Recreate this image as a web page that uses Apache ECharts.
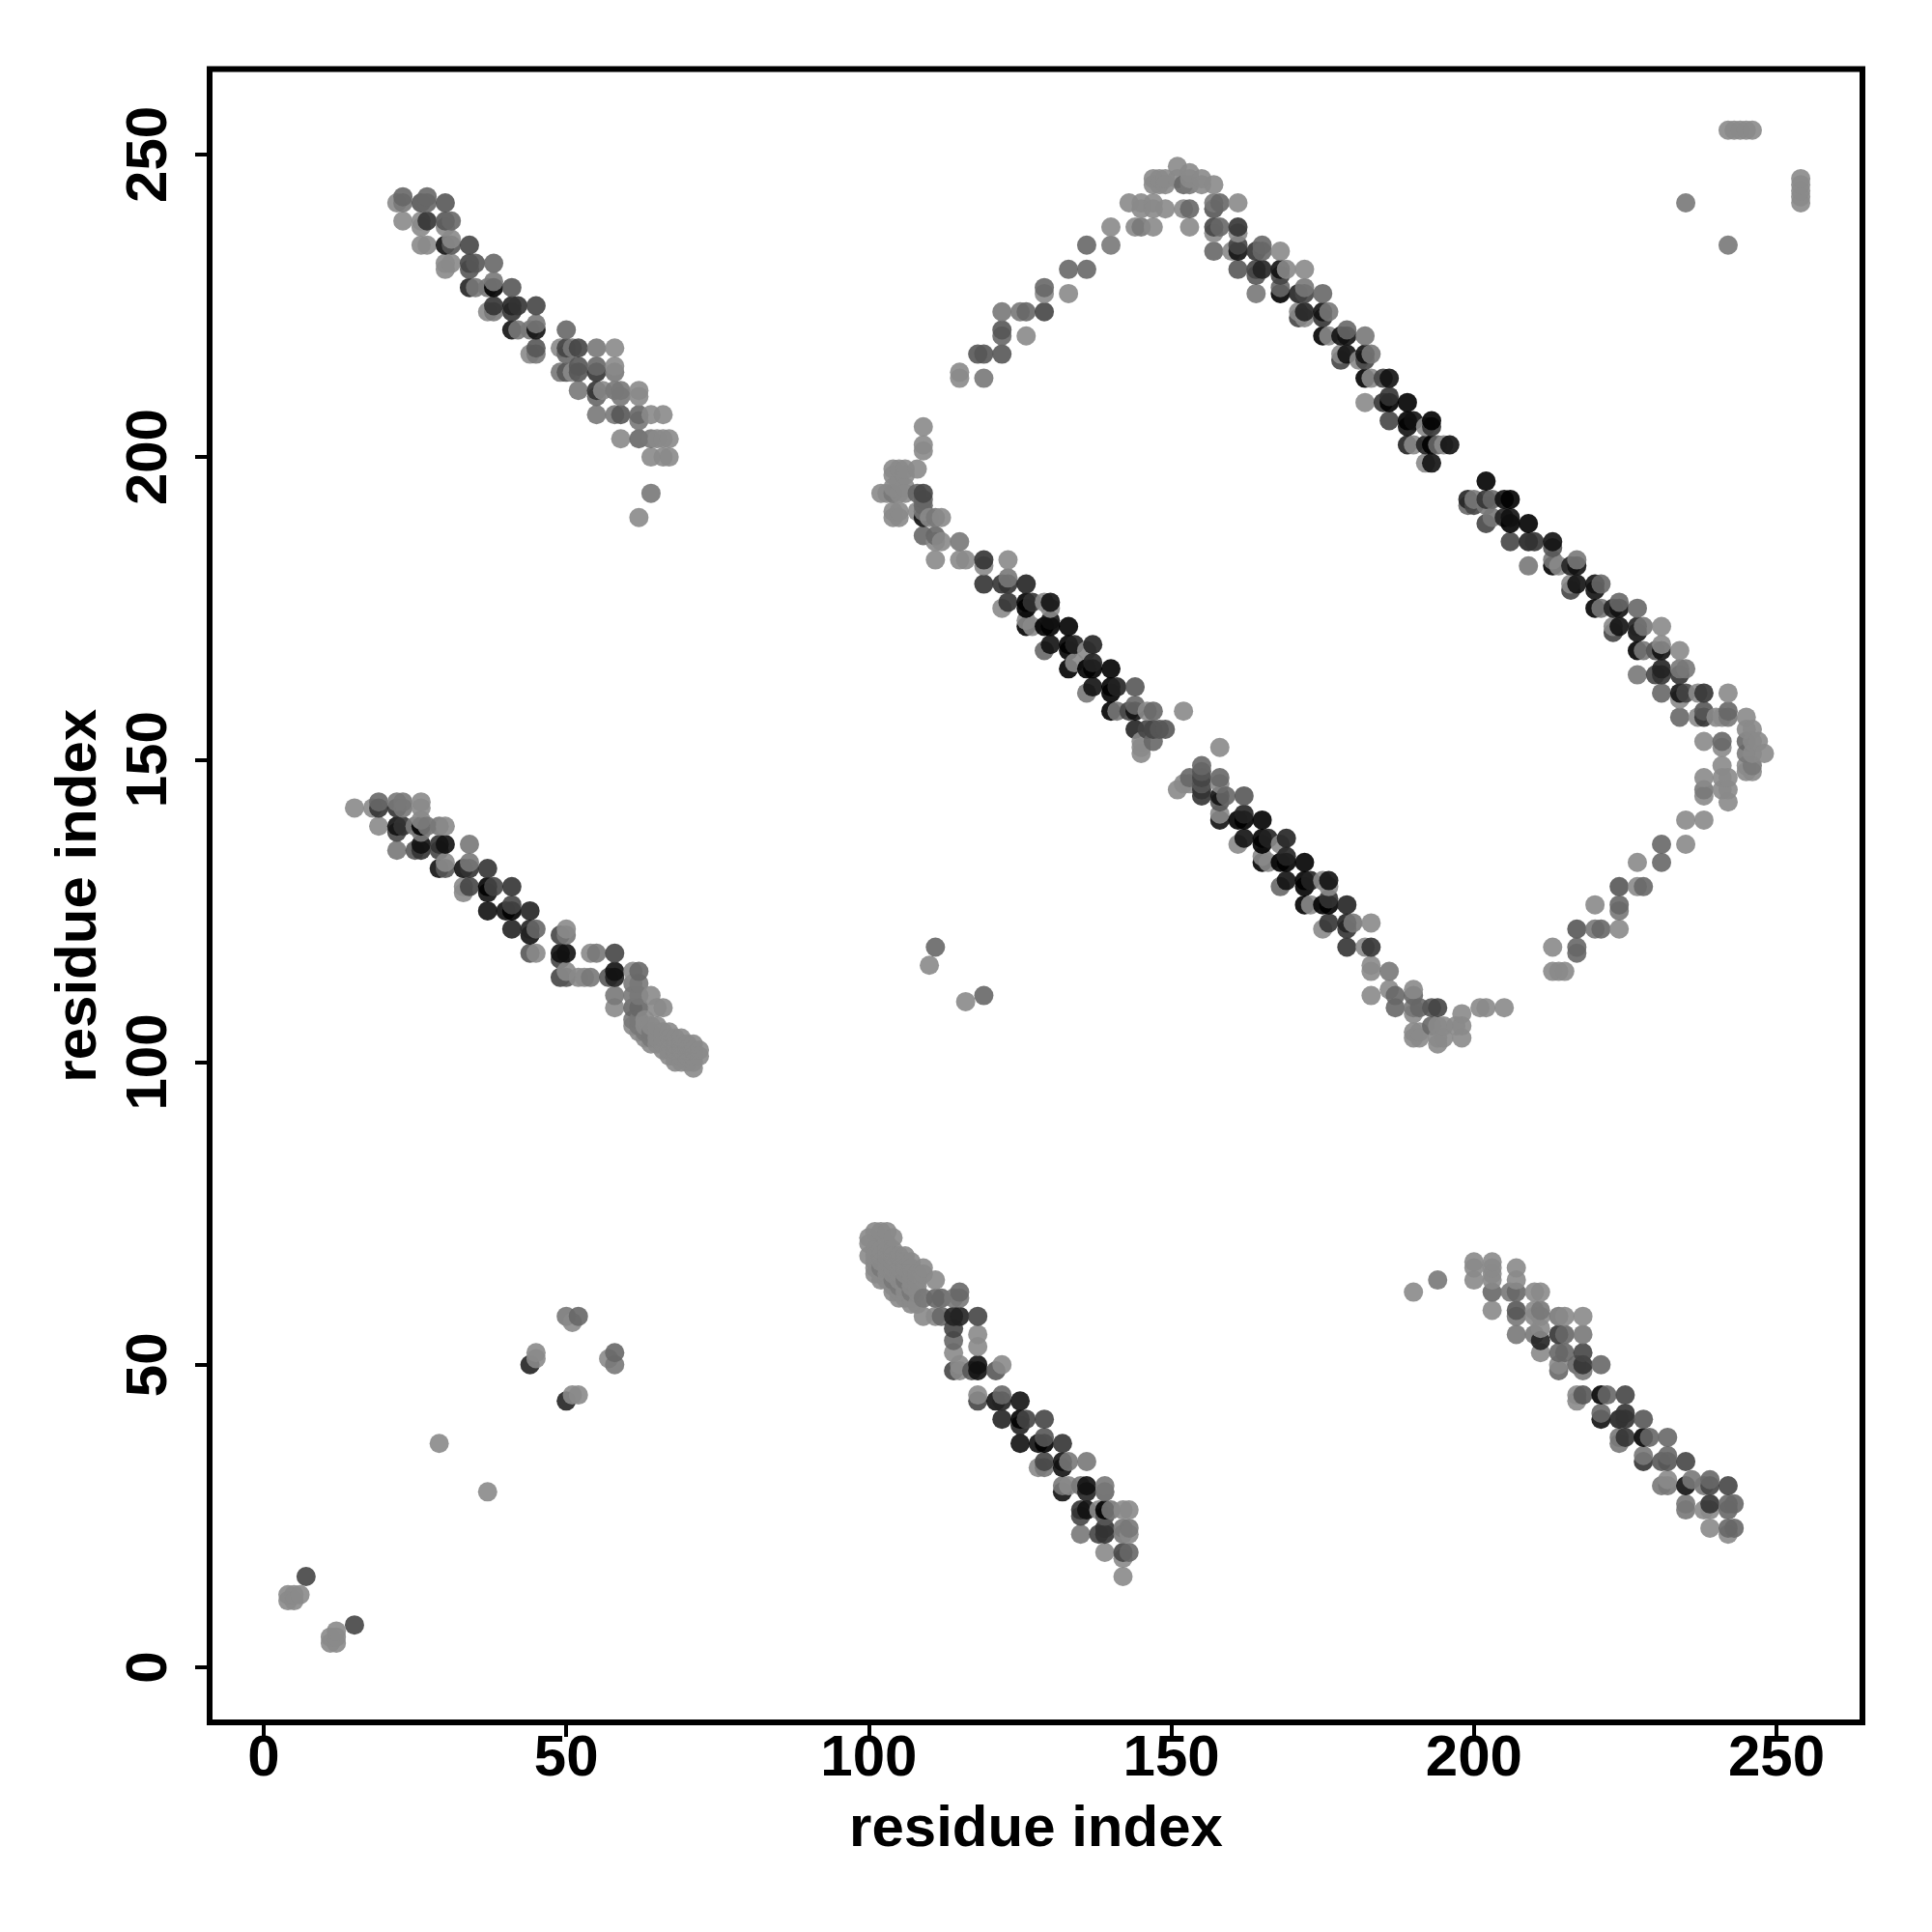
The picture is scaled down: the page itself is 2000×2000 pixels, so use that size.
<!DOCTYPE html>
<html><head><meta charset="utf-8">
<style>html,body{margin:0;padding:0;background:#fff}#c{width:2000px;height:2000px}</style>
<script src="https://cdn.jsdelivr.net/npm/echarts@6/dist/echarts.min.js"></script>
</head><body><div id="c"></div>
<script>
const tickValues=[0,50,100,150,200,250];
const axisTitle='residue index';
// [residue i, residue j, contact score 1..9]
const upperLeftBand=[[22,242,1],[23,242,2],[23,243,3],[26,242,4],[27,242,3],[27,243,3],[30,242,4],
[23,239,1],[26,239,1],[26,238,1],[27,239,6],[30,239,4],[30,238,1],[31,239,3],
[26,235,1],[27,235,1],[30,235,8],[31,235,4],[31,236,1],[34,235,5],
[30,232,1],[30,231,1],[31,232,1],[34,232,5],[34,231,4],[35,232,4],[38,232,3],
[34,228,7],[35,228,2],[37,228,2],[38,228,9],[38,229,2],[41,228,4],
[37,224,1],[38,224,2],[38,225,6],[41,224,6],[41,225,7],[42,225,6],[45,225,5],
[41,221,8],[42,221,2],[44,221,2],[45,221,8],[45,222,2],
[44,217,1],[45,217,2],[45,218,4],[50,221,3],
[49,218,1],[50,217,3],[50,218,5],[51,218,2],[52,218,5],[55,218,2],[58,218,1],
[49,214,2],[50,214,4],[51,214,1],[52,214,4],[52,215,4],[55,214,6],[55,215,3],[58,214,2],[58,215,1],
[52,211,2],[55,210,3],[55,211,6],[56,211,1],[58,211,2],[59,211,2],[59,210,2],[62,210,1],[62,211,1],
[55,207,2],[58,207,2],[59,207,4],[62,206,2],[62,207,3],[64,207,1],[66,207,1],
[59,203,1],[62,203,3],[64,203,2],[65,203,1],[66,203,1],[67,203,1],
[64,200,1],[66,200,1],[67,200,1],[64,194,2],[62,190,1]];
const midLeftBand=[[15,142,1],[18,142,1],[19,142,6],[19,143,3],[22,142,6],[22,143,2],[23,142,2],[23,143,2],[26,142,1],[26,143,1],
[19,139,1],[22,138,5],[22,139,8],[23,139,6],[25,139,2],[26,138,2],[26,139,9],[26,140,1],[27,139,2],[29,139,2],[30,139,1],
[22,135,2],[25,135,4],[26,135,6],[26,136,8],[29,135,5],[29,136,6],[30,136,8],[34,136,2],
[29,132,8],[30,132,4],[30,133,1],[33,132,8],[34,132,6],[34,133,2],[37,132,6],
[33,128,1],[33,129,1],[34,129,5],[37,128,8],[37,129,9],[38,129,5],[41,129,6],
[37,125,8],[40,125,8],[41,125,9],[41,126,5],[44,125,7],
[41,122,7],[44,121,8],[44,122,7],[45,122,3],
[44,118,4],[45,118,1],
[49,121,5],[50,121,2],[50,122,1],
[49,117,5],[49,118,8],[50,118,8],[49,114,5],[50,114,4],[50,115,1],[52,114,1],[53,114,1],[54,114,2],
[54,118,1],[55,118,2],[58,118,5],
[57,114,4],[58,114,7],[58,115,8],[58,111,2],[58,109,1],
[61,115,1],[62,115,3],[61,113,2],[62,113,2],[61,111,2],[62,111,2],[61,109,3],[62,109,3],[64,111,1],[65,109,1],[66,109,1],
[61,107,2],[61,106,1],[62,107,2],[62,106,2],[62,105,1],[63,104,1],[63,105,2],[63,106,1],[63,107,1],[64,103,1],[64,104,2],[64,105,2],[64,106,1],[65,103,1],[65,104,1],[65,105,1],[65,106,1],[66,102,1],[66,103,1],[66,104,1],[66,105,1],[67,101,1],[67,102,1],[67,103,1],[67,104,1],[67,105,1],[68,100,1],[68,101,1],[68,102,1],[68,103,1],[68,104,1],[69,100,1],[69,101,1],[69,102,1],[69,103,1],[69,104,1],[70,100,1],[70,101,1],[70,102,1],[70,103,1],[71,100,1],[71,101,1],[71,102,1],[71,103,1],[72,101,1],[72,102,1],[71,99,1]];
const centralBandA=[[109,205,1],[109,202,1],[109,201,1],[104,198,1],[105,198,1],[106,198,1],[108,198,1],[104,197,1],[106,197,1],[105,196,1],[104,195,1],[106,195,1],
[102,194,1],[103,194,1],[104,194,2],[105,194,1],[106,194,1],[108,194,3],[109,194,5],[109,193,3],[109,192,3],
[104,190,1],[104,191,1],[105,190,1],[105,191,1],[108,191,1],[109,190,8],[109,191,2],[110,190,1],[111,190,2],[112,190,1],
[109,187,3],[111,186,1],[111,187,3],[112,186,1],[115,186,2],
[111,183,1],[115,183,1],[116,183,1],[119,182,1],[119,183,6],[123,183,1],
[119,179,6],[122,179,6],[123,179,6],[123,180,2],[126,179,7],
[122,175,1],[123,176,6],[126,175,9],[126,176,9],[127,176,6],[129,176,1],[130,175,1],[130,176,8],
[126,172,9],[126,173,1],[127,172,1],[129,172,9],[130,172,9],[130,173,8],[133,172,9],
[129,168,3],[130,169,8],[133,168,9],[133,169,9],[134,169,7],[136,168,1],[137,169,7],
[133,165,9],[134,166,1],[136,165,9],[137,165,9],[137,166,7],[140,165,9],
[136,161,2],[137,162,8],[140,161,9],[140,162,9],[141,162,7],[144,162,4],
[140,158,9],[141,158,2],[143,158,5],[144,158,8],[144,159,3],[146,158,1],[147,158,3],[152,158,1],
[144,155,7],[146,155,5],[147,155,5],[148,155,4],[149,155,4],[147,153,3],[145,153,1],[145,152,1],[145,151,1],[158,152,1]];
const centralBandB=[[151,145,1],[152,146,1],[153,147,3],[153,146,1],[155,149,3],[155,148,4],[155,147,5],[155,146,4],[155,145,6],[155,144,6],[158,147,3],[158,146,1],[158,144,8],[159,144,3],[162,144,4],[158,143,4],[158,141,1],[158,140,8],
[161,136,1],[161,140,9],[162,141,7],[162,140,9],[162,137,8],[165,140,9],[165,137,9],[165,136,9],[166,137,7],[165,133,9],[165,134,1],[166,133,1],[169,137,7],[168,136,1],[168,133,9],[169,134,7],[169,133,9],[172,133,9],
[169,130,8],[168,129,3],[172,130,9],[172,129,9],[173,130,7],[175,130,1],[176,130,8],[176,129,1],[172,126,9],[173,126,1],[175,126,9],[176,127,6],[176,126,9],[179,126,7],
[176,123,6],[175,122,1],[179,123,7],[179,122,6],[180,123,2],[183,123,1],
[179,119,6],[182,119,1],[183,119,6],
[183,116,1],[183,115,1],[186,115,2],
[183,111,1],[186,112,1],[187,111,3],[187,109,3],[190,112,1],[190,111,3],[190,109,2],[191,109,3],[190,108,1],[193,109,4],[194,109,5],
[190,105,1],[191,105,1],[190,104,1],[191,104,1],[193,106,3],[194,104,1],[194,106,1],[194,103,1],[195,106,1],[195,104,1],[197,106,1],[198,108,1],[198,106,1],[198,104,1],[201,109,1],[202,109,1],[205,109,1]];
const ringRising=[[115,214,1],[115,213,1],[119,213,2],[118,217,4],[119,217,4],[122,217,4],[122,221,4],[122,220,3],[126,220,1],[122,224,2],[125,224,2],[126,224,3],[129,224,5],[129,228,3],[129,227,1],[133,227,1],[133,231,3],[136,231,3],[136,235,3],[140,235,2],[140,238,1],
[143,242,1],[144,238,1],[145,238,2],[147,238,1],[145,241,1],[145,242,1],[147,242,1],[147,241,1],[149,241,1],[152,241,1],[153,241,3],[153,238,1],
[147,246,1],[147,245,1],[148,246,1],[148,245,1],[149,246,1],[149,245,1],[151,248,1],[151,246,1],[152,245,3],[153,247,1],[153,246,1],[153,245,2],[155,246,1],[155,245,1],[157,245,1]];
const ringFallingA=[[157,242,2],[158,242,3],[157,241,4],[161,242,1],
[157,238,5],[158,238,3],[157,237,1],[161,238,6],[161,237,1],
[157,234,3],[160,234,1],[161,235,5],[161,234,8],[164,234,6],[165,235,3],[165,234,3],[168,234,1],
[161,231,4],[164,231,5],[164,230,4],[165,231,7],[168,231,8],[168,230,5],[169,231,1],[172,231,1],
[164,227,2],[168,228,3],[168,227,9],[171,227,7],[172,228,2],[172,227,5],[175,227,3],
[171,224,1],[171,223,5],[172,224,7],[172,223,1],[175,224,8],[175,223,6],[176,224,2],
[175,220,9],[176,220,1],[178,220,8],[179,221,3],[179,220,8],[182,220,2],
[178,216,5],[178,217,1],[179,217,8],[181,216,1],[182,217,8],[182,216,5],[183,217,2],
[182,213,9],[183,213,1],[185,213,5],[186,213,8],
[182,209,1],[185,209,6],[186,210,6],[186,209,9],[189,209,9],
[186,206,5],[189,206,9],[189,205,8],[190,206,8],[192,205,1],[193,206,9],[193,205,6],
[189,202,7],[190,202,1],[192,202,7],[193,202,9],[194,202,3],[195,202,1],[196,202,8],
[192,199,1],[193,199,8],[202,196,9]];
const ringFallingB=[[199,193,7],[199,192,3],[200,192,5],[200,193,2],[202,193,6],[202,192,2],[203,193,3],[202,189,5],[203,190,2],[205,190,7],[205,193,8],
[206,193,9],[206,190,8],[206,189,9],[209,189,9],[206,186,5],[209,186,7],[210,186,6],[213,186,8],[213,185,4],[209,182,2],[213,183,2],[213,182,9],[214,182,1],[216,182,7],[217,183,2],[217,182,8],
[216,179,1],[217,179,8],[216,178,5],[220,179,8],[220,178,8],[221,179,3],
[220,175,9],[221,175,2],[223,175,7],[224,176,3],[224,175,8],[227,175,3],
[223,172,1],[223,171,5],[224,172,8],[227,172,7],[227,171,8],[228,172,2],[231,172,1],
[227,168,9],[228,168,2],[230,168,4],[231,169,1],[231,168,8],[234,168,1],
[227,164,2],[230,164,5],[231,165,7],[231,164,6],[234,165,2],[235,165,2],[234,164,6],
[231,161,3],[234,161,8],[234,160,1],[235,161,5],[237,161,1],[238,161,6],[242,161,1],
[234,157,3],[237,157,1],[238,158,4],[238,157,6],[240,157,1],[241,157,1],[242,158,3],[242,157,2],
[245,157,1],[245,155,1],[246,155,1],[247,153,1],[248,151,1],[245,153,3],[246,153,1],[245,151,2],[246,151,1],[245,149,1],[246,149,2],[245,148,1],[246,148,1],
[238,153,1],[241,153,3],[241,152,1],[241,149,1],[238,147,1],[241,147,1],[242,147,1],[238,145,2],[238,144,1],[241,145,1],[242,145,1],[242,143,1],
[235,140,1],[238,140,1]];
const ringLower=[[231,136,3],[235,136,1],[231,133,3],[227,133,1],[228,129,3],[227,129,1],[224,129,4],[224,126,3],[224,125,2],[220,126,1],[224,122,1],[221,122,3],[220,122,2],[217,122,4],[217,119,3],[217,118,3],[213,119,1],[213,115,1],[214,115,1],[215,115,1]];
const bottomMidBand=[[100,71,1],[101,72,1],[102,72,1],[103,72,1],[104,71,1],[106,68,1],[107,67,1],[109,66,1],[111,64,1],[100,68,1],[101,66,1],[101,65,1],[102,64,1],[104,62,1],[105,61,1],[107,60,1],[102,69,1],[101,69,1],[103,67,1],[102,66,2],[104,64,2],[105,63,2],[107,62,2],[109,61,2],[107,64,1],[109,65,1],[105,66,1],[103,70,1],[104,68,1],[106,64,2],[103,64,1],
[100,70,1],[101,68,1],[101,67,1],[102,65,1],[102,67,1],[102,68,1],[103,65,1],[103,66,1],[103,68,1],[103,69,1],[104,63,1],[104,65,1],[104,66,1],[104,67,1],[104,69,1],[105,62,1],[105,64,1],[105,65,1],[105,67,1],[105,68,1],[106,61,1],[106,62,1],[106,63,1],[106,65,1],[106,66,1],[106,67,1],[107,61,1],[107,63,1],[107,65,1],[107,66,1],[108,60,1],[108,62,1],[108,63,1],[108,64,1],[108,65,1],
[109,58,1],[111,58,1],[112,58,3],[114,58,7],[115,58,7],[118,58,5],[111,61,3],[112,61,3],[114,61,2],[115,62,3],[115,61,2],
[114,56,5],[114,54,3],[114,52,1],[118,55,1],[118,53,1],
[114,49,5],[115,50,1],[115,49,1],[117,49,4],[118,50,8],[118,49,8],[121,49,4],[122,50,1],
[118,45,1],[118,44,5],[121,44,8],[122,45,3],[122,44,7],[125,44,8],
[122,41,7],[125,41,9],[125,40,7],[126,41,5],[129,41,5],
[125,37,8],[128,37,8],[129,38,4],[129,37,9],[132,37,6],
[128,33,1],[129,34,5],[129,33,2],[132,34,8],[132,33,8],[133,34,2],[136,34,2],
[132,30,2],[132,29,8],[133,30,1],[135,30,2],[136,30,8],[136,29,7],[139,30,2],[139,29,3],
[135,26,6],[135,25,5],[136,26,8],[138,26,1],[139,26,9],[140,26,2],[142,26,1],[143,26,1],[139,25,4],
[135,22,2],[138,22,5],[139,23,6],[139,22,6],[142,23,2],[143,23,2],[142,22,2],[143,22,1],
[139,19,1],[142,19,5],[143,19,3],[142,18,1],[142,15,1]];
const bottomRightBand=[[190,62,1],[194,64,2],
[200,67,1],[200,66,1],[200,64,1],
[203,67,1],[203,66,1],[203,65,1],[203,64,1],[203,62,3],[203,59,1],
[207,66,1],[207,64,1],[206,62,2],[207,62,3],[210,62,1],[211,62,1],
[207,59,4],[207,58,2],[210,59,1],[211,59,2],[210,58,1],[211,58,1],[214,58,2],[215,58,1],[218,58,1],
[207,55,2],[210,55,2],[211,56,1],[211,54,7],[214,55,6],[215,55,3],[218,55,2],
[211,52,1],[214,52,3],[215,52,3],[218,52,5],[214,50,1],[214,49,3],[217,50,3],[218,50,6],[218,49,2],[221,50,3],
[217,45,1],[217,44,1],[218,45,4],[221,45,9],[222,45,3],[225,45,5],
[221,42,3],[221,41,8],[224,41,7],[225,42,6],[225,41,6],[228,41,4],
[224,38,2],[224,37,2],[225,38,6],[228,38,9],[229,38,3],[232,38,3],
[228,35,2],[228,34,6],[231,34,4],[232,35,3],[232,34,4],[235,34,5],
[231,30,2],[232,31,1],[232,30,2],[235,30,8],[236,31,2],[238,30,2],[239,31,3],[239,30,5],[242,30,5],
[235,27,2],[235,26,2],[238,26,1],[239,27,6],[239,26,1],[242,27,3],[243,27,3],[242,26,3],
[239,23,1],[242,23,3],[243,23,3],[242,22,1]];
const isolated=[[7,15,5],[4,11,1],[4,12,1],[5,11,1],[5,12,1],[6,12,1],[11,4,1],[11,5,1],[12,4,1],[12,5,1],[12,6,1],[15,7,5],
[29,37,1],[37,29,1],[44,50,7],[45,51,1],[45,52,1],[50,44,7],[51,45,1],[52,45,1],[50,58,2],[51,57,1],[52,58,3],[57,51,1],[58,50,2],[58,52,3],
[111,119,3],[110,116,1],[119,111,3],[116,110,1],
[235,242,2],[242,235,2],[242,254,1],[243,254,1],[244,254,1],[245,254,1],[246,254,1],[254,246,1],[254,245,1],[254,244,1],[254,243,1],[254,242,1]];

const points=[].concat(upperLeftBand,midLeftBand,centralBandA,centralBandB,ringRising,ringFallingA,ringFallingB,ringLower,bottomMidBand,bottomRightBand,isolated)
  .sort((a,b)=>a[0]-b[0]||a[1]-b[1]);
const shade=s=>{const g=Math.round(137*(9-s)/8);return `rgb(${g},${g},${g})`;};
const font='"Liberation Sans",Arial,Helvetica,sans-serif';
const chart=echarts.init(document.getElementById('c'),null,{renderer:'canvas',width:2000,height:2000});
const axisBase={
  type:'value',name:axisTitle,nameLocation:'middle',
  nameTextStyle:{fontFamily:font,fontWeight:'bold',fontSize:60,color:'#000'},
  splitLine:{show:false},axisLine:{show:false,onZero:false},
  axisTick:{show:true,length:15,inside:false,lineStyle:{color:'#000',width:4},customValues:tickValues},
};
chart.setOption({
  animation:false,backgroundColor:'#fff',
  grid:{show:true,left:217,top:71.5,width:1711,height:1711.5,borderColor:'#000',borderWidth:6,backgroundColor:'#fff'},
  xAxis:Object.assign({},axisBase,{min:-8.94,max:264.2,nameGap:81,
    axisLabel:{fontFamily:font,fontWeight:'bold',fontSize:60,color:'#000',margin:8,customValues:tickValues}}),
  yAxis:Object.assign({},axisBase,{min:-9.1,max:264.1,nameGap:105,nameRotate:90,
    axisLabel:{fontFamily:font,fontWeight:'bold',fontSize:60,color:'#000',margin:62,rotate:90,customValues:tickValues,align:'center',verticalAlign:'middle'}}),
  series:[{type:'scatter',symbol:'circle',symbolSize:20,clip:false,
    data:points.map(p=>({value:[p[0],p[1]],itemStyle:{color:shade(p[2]),opacity:0.9}})),
    large:false,progressive:0}]
});
</script></body></html>
